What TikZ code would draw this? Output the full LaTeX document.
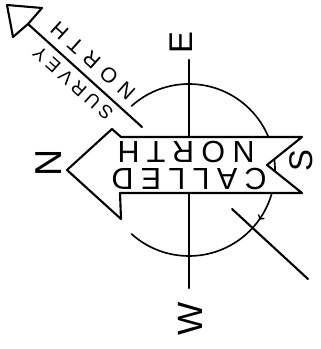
\documentclass[tikz,border=0pt]{standalone}
\usepackage{fontspec}
\setmainfont{Liberation Sans}
\usetikzlibrary{decorations.markings}

\tikzset{
  sketch/.style={line width=1.8pt, line cap=round, line join=round},
  compass/.style={font=\fontsize{28}{30}\selectfont, rotate=90, inner sep=0pt},
  bigsign/.style={font=\fontsize{26}{28}\selectfont\addfontfeature{LetterSpace=24}, rotate=180, inner sep=0pt},
  smallsign/.style={rotate=138, inner sep=0pt},
}

\begin{document}
\begin{tikzpicture}[x=0.03cm, y=-0.03cm]
  \useasboundingbox (0,0) rectangle (321,349);
  \coordinate (c) at (189,170);
  % compass circle and cross
  \draw[sketch, line width=1.4pt, postaction={decorate},
    decoration={markings, mark=at position 0.634 with {\arrow{>}}}]
    (c) ++(-132:86) arc[start angle=-132, end angle=132, radius=86];
  \draw[sketch] (189,60) -- (189,288);
  \draw[sketch] (28,24) -- (142,127);
  \draw[sketch] (232,209) -- (308,279);
  % survey north arrow
  \draw[sketch] (7,5) -- (42,8) -- (28,24) -- (13,37) -- cycle;
  \node[smallsign, font=\fontsize{16}{18}\selectfont\addfontfeature{LetterSpace=25}] (survey) at (73,83) {SURVEY};
  \node[smallsign, font=\fontsize{18}{20}\selectfont\addfontfeature{LetterSpace=36}] (snorth) at (93,61) {NORTH};
  % called north arrow
  \draw[sketch, fill=white] (67,170) -- (112,129) -- (121,137) -- (302,137) -- (267,165)
    -- (302,193) -- (120,193) -- (121,219) -- cycle;
  \node[bigsign] (cnorth) at (186,152) {NORTH};
  \node[bigsign] (called) at (189,179) {CALLED};
  % compass letters
  \node[compass] (east) at (181,43) {E};
  \node[compass] (south) at (301,161) {S};
  \node[compass, font=\fontsize{32}{34}\selectfont] (north) at (49,163) {N};
  \node[compass, font=\fontsize{30}{32}\selectfont] (west) at (190,319) {W};
\end{tikzpicture}
\end{document}
